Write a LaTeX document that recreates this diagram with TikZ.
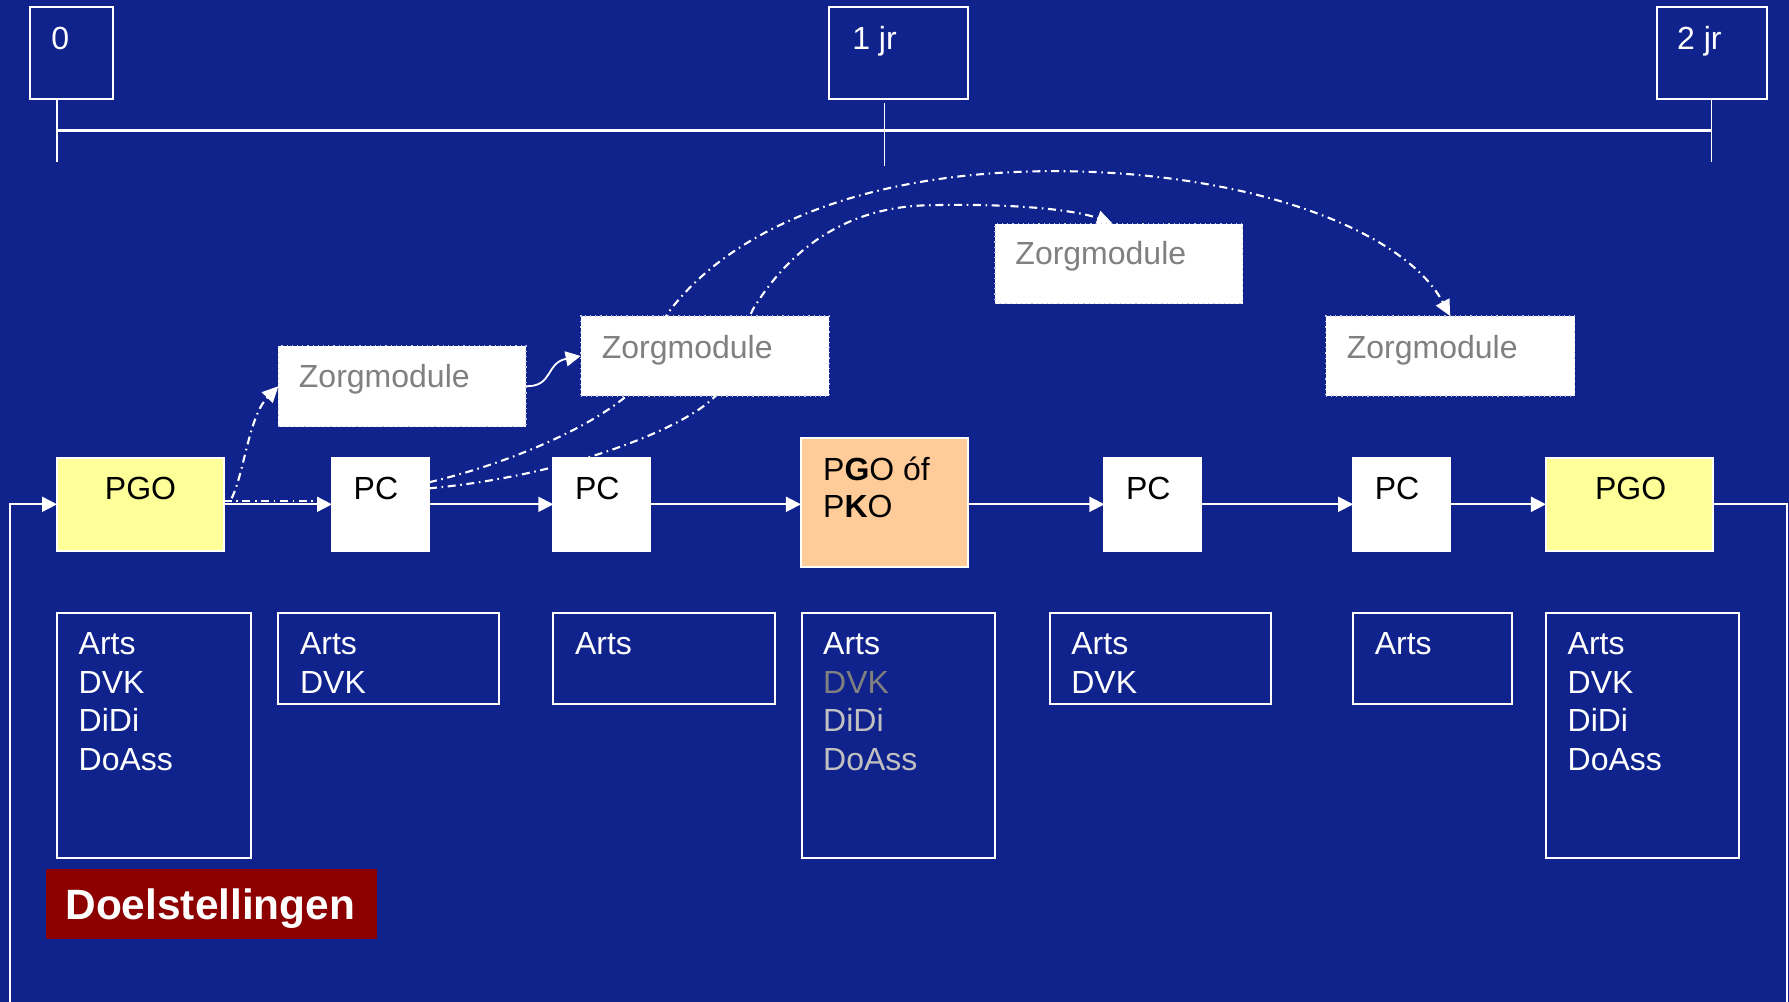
\documentclass[tikz,border=0pt]{standalone}
\usepackage{fontspec}
\setmainfont{Liberation Sans}
\usetikzlibrary{arrows.meta,fit}
\definecolor{bgblue}{RGB}{16,35,140}
\definecolor{pgoyellow}{RGB}{255,255,153}
\definecolor{pkoorange}{RGB}{255,204,153}
\definecolor{doelred}{RGB}{140,0,0}
\definecolor{zgrey}{RGB}{128,128,128}
\definecolor{lgrey}{RGB}{192,192,192}
\pgfdeclarelayer{back}
\pgfdeclarelayer{mid}
\pgfsetlayers{back,mid,main}
\begin{document}
\begin{tikzpicture}[x=0.57047pt,y=-0.57047pt,
  box/.style={inner sep=0pt, outer sep=0pt, draw=white, line width=1pt},
  zbox/.style={inner sep=0pt, outer sep=0pt, fill=white, draw=white!75!bgblue, dotted, line width=0.6pt},
  lbl/.style={anchor=base west, inner sep=0pt, outer sep=0pt, font=\fontsize{16}{19.2}\selectfont},
  line/.style={draw=white, line width=0.9pt},
  conn/.style={line, -{Triangle[length=7.5pt,width=7.5pt]}},
  dashdot/.style={draw=white, line width=1.05pt, dash pattern=on 4pt off 2.3pt on 0.8pt off 2.3pt},
  dasharr/.style={dashdot, -{Triangle[length=8pt,width=7.5pt]}},
]
\begin{pgfonlayer}{back}
\fill[bgblue] (0,0) rectangle (1568,878);
\end{pgfonlayer}
\useasboundingbox (0,0) rectangle (1568,878);

% time line
\node[box, fit={(26,6) (99,87)}] (yr0) {};
\node[box, fit={(727,6) (848,87)}] (yr1) {};
\node[box, fit={(1452,6) (1549,87)}] (yr2) {};
\node[lbl, text=white] (tyr0) at (45,43) {0};
\node[lbl, text=white] (tyr1) at (747,43) {1 jr};
\node[lbl, text=white] (tyr2) at (1470,43) {2 jr};
\coordinate (tl0) at (50,114.5);
\coordinate (tl2) at (1500,114.5);
\coordinate (tk0a) at (50,87.6);  \coordinate (tk0b) at (50,142);
\coordinate (tk1a) at (775,90.5); \coordinate (tk1b) at (775,145.5);
\coordinate (tk2a) at (1500,87.6);\coordinate (tk2b) at (1500,142);
\draw[white, line width=1.4pt] (tl0) -- (tl2);
\draw[white, line width=0.7pt] (tk0a) -- (tk0b);
\draw[white, line width=0.7pt] (tk1a) -- (tk1b);
\draw[white, line width=0.7pt] (tk2a) -- (tk2b);

% zorgmodules
\node[zbox, fit={(244,303) (461,374)}] (z1) {};
\node[zbox, fit={(509,277) (727,347)}] (z2) {};
\node[zbox, fit={(872,196) (1089,266)}] (z3) {};
\node[zbox, fit={(1162,277) (1380,347)}] (z4) {};
\node[lbl, text=zgrey] (tz1) at (262,340) {Zorgmodule};
\node[lbl, text=zgrey] (tz2) at (527.5,314) {Zorgmodule};
\node[lbl, text=zgrey] (tz3) at (890,232) {Zorgmodule};
\node[lbl, text=zgrey] (tz4) at (1180.5,314) {Zorgmodule};

% main row
\node[box, fill=pgoyellow, fit={(50,401) (196,483)}] (pgo1) {};
\node[box, fill=white, fit={(291,401) (376,483)}] (pc1) {};
\node[box, fill=white, fit={(485,401) (570,483)}] (pc2) {};
\node[box, fill=pkoorange, fit={(702,384) (848,497)}] (pko) {};
\node[box, fill=white, fit={(968,401) (1053,483)}] (pc3) {};
\node[box, fill=white, fit={(1186,401) (1271,483)}] (pc4) {};
\node[box, fill=pgoyellow, fit={(1355,401) (1501,483)}] (pgo2) {};
\node[lbl] (tpgo1) at (92,438) {PGO};
\node[lbl] (tpc1) at (310,438) {PC};
\node[lbl] (tpc2) at (504,438) {PC};
\node[lbl] (tpko1) at (721.5,421) {P\textbf{G}O óf};
\node[lbl] (tpko2) at (721.5,454) {P\textbf{K}O};
\node[lbl] (tpc3) at (987,438) {PC};
\node[lbl] (tpc4) at (1205,438) {PC};
\node[lbl] (tpgo2) at (1398,438) {PGO};

% main arrows
\coordinate (inL) at (8.6,878);
\coordinate (outR) at (1566,878);
\draw[conn] (inL) |- (pgo1.west);
\draw[conn] (pgo1.east) -- (pc1.west);
\draw[conn] (pc1.east) -- (pc2.west);
\draw[conn] (pc2.east) -- (pko.west|-pc2.east);
\draw[conn] (pko.east|-pc3.west) -- (pc3.west);
\draw[conn] (pc3.east) -- (pc4.west);
\draw[conn] (pc4.east) -- (pgo2.west);
\draw[line] (pgo2.east) -| (outR);

% dash-dot connectors (behind boxes)
\begin{pgfonlayer}{mid}
\draw[dashdot] ([yshift=1.6pt]pgo1.east) -- ([yshift=1.6pt, xshift=-4pt]pc1.west);
\draw[dasharr] ([xshift=4pt,yshift=3pt]pgo1.east) .. controls (214,415) and (218,365) .. (z1.west);
\draw[dasharr] ([yshift=11pt]pc1.east) .. controls (450,405) and (515,375) .. (548,348)
   .. controls (570,330) and (575,290) .. (585,275)
   .. controls (640,200) and (760,150) .. (924,150)
   .. controls (1090,150) and (1230,200) .. (z4.north);
\draw[dasharr] ([yshift=8pt]pc1.east) .. controls (490,418) and (595,378) .. (625,349)
   .. controls (645,330) and (650,290) .. (660,271)
   .. controls (685,230) and (730,183) .. (810,180)
   .. controls (880,178) and (940,183) .. ([xshift=-3pt]z3.north);
\end{pgfonlayer}
\draw[conn] (z1.east) .. controls (485,339) and (478,318) .. (z2.west);

% bottom boxes
\node[box, fit={(50,537) (220,752)}] (b1) {};
\node[box, fit={(244,537) (437,617)}] (b2) {};
\node[box, fit={(485,537) (679,617)}] (b3) {};
\node[box, fit={(703,537) (872,752)}] (b4) {};
\node[box, fit={(920,537) (1114,617)}] (b5) {};
\node[box, fit={(1186,537) (1325,617)}] (b6) {};
\node[box, fit={(1355,537) (1524,752)}] (b7) {};

\node[lbl, text=white] (b1a) at (69,574) {Arts};
\node[lbl, text=white] (b1b) at (69,607.5) {DVK};
\node[lbl, text=white] (b1c) at (69,641) {DiDi};
\node[lbl, text=white] (b1d) at (69,675) {DoAss};
\node[lbl, text=white] (b2a) at (263,574) {Arts};
\node[lbl, text=white] (b2b) at (263,607.5) {DVK};
\node[lbl, text=white] (b3a) at (504,574) {Arts};
\node[lbl, text=white] (b4a) at (721.5,574) {Arts};
\node[lbl, text=zgrey] (b4b) at (721.5,607.5) {DVK};
\node[lbl, text=lgrey] (b4c) at (721.5,641) {DiDi};
\node[lbl, text=lgrey] (b4d) at (721.5,675) {DoAss};
\node[lbl, text=white] (b5a) at (939,574) {Arts};
\node[lbl, text=white] (b5b) at (939,607.5) {DVK};
\node[lbl, text=white] (b6a) at (1205,574) {Arts};
\node[lbl, text=white] (b7a) at (1374,574) {Arts};
\node[lbl, text=white] (b7b) at (1374,607.5) {DVK};
\node[lbl, text=white] (b7c) at (1374,641) {DiDi};
\node[lbl, text=white] (b7d) at (1374,675) {DoAss};

% Doelstellingen
\node[inner sep=0pt, outer sep=0pt, fill=doelred, fit={(40,762) (330,823)}] (doel) {};
\node[anchor=base west, inner sep=0pt, text=white, font=\fontsize{21.2}{25}\selectfont\bfseries] (tdoel) at (57,806) {Doelstellingen};
\end{tikzpicture}
\end{document}
